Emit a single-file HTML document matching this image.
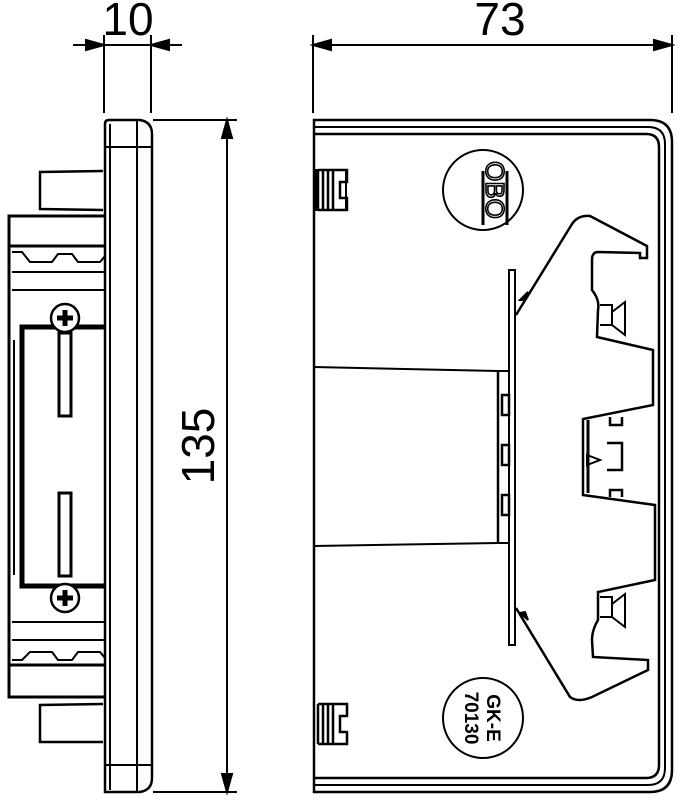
<!DOCTYPE html>
<html><head><meta charset="utf-8"><style>html,body{margin:0;padding:0;background:#fff}svg{display:block}</style></head>
<body>
<svg width="678" height="800" viewBox="0 0 678 800" xmlns="http://www.w3.org/2000/svg" fill="none" stroke="#000" stroke-width="2" font-family="Liberation Sans, sans-serif">
<!-- dim 10 -->
<line x1="104" y1="35" x2="104" y2="113"/><line x1="151" y1="35" x2="151" y2="113"/>
<line x1="73" y1="45" x2="182" y2="45"/>
<path d="M104 45 L86 40 L86 50 Z M151 45 L169 40 L169 50 Z" fill="#000"/>
<text x="128" y="35" font-size="46" text-anchor="middle" fill="#000" stroke="none">10</text>
<!-- dim 73 -->
<line x1="313" y1="35" x2="313" y2="113"/><line x1="672" y1="35" x2="672" y2="113"/>
<line x1="313" y1="45" x2="672" y2="45"/>
<path d="M313 45 L331 40 L331 50 Z M672 45 L654 40 L654 50 Z" fill="#000"/>
<text x="500" y="35" font-size="46" text-anchor="middle" fill="#000" stroke="none">73</text>
<!-- dim 135 -->
<line x1="153" y1="120" x2="237" y2="120"/><line x1="153" y1="792" x2="237" y2="792"/>
<line x1="227" y1="120" x2="227" y2="792"/>
<path d="M227 120 L222 138 L232 138 Z M227 792 L222 774 L232 774 Z" fill="#000"/>
<text transform="translate(214,446) rotate(-90)" font-size="46" text-anchor="middle" fill="#000" stroke="none">135</text>
<!-- left view plate -->
<path d="M105 792 L105 124 Q105 120 109 120 L140 120 Q152 122 152 134 L152 778 Q152 790 140 792 Z" stroke-width="2.5"/>
<line x1="110" y1="124" x2="110" y2="790"/><line x1="137" y1="120" x2="137" y2="792"/>
<line x1="105" y1="147" x2="152" y2="147"/><line x1="105" y1="765" x2="152" y2="765"/>
<!-- tabs -->
<path d="M103 171 L40 172 L40 209 L103 210" stroke-width="2.5"/>
<path d="M103 704 L40 705 L40 742 L103 742" stroke-width="2.5"/>
<!-- body -->
<path d="M105 216 L9 216 L9 697 L105 697" stroke-width="3"/>
<line x1="10" y1="246" x2="105" y2="246" stroke-width="3"/>
<line x1="12" y1="272" x2="105" y2="272"/><line x1="12" y1="290" x2="105" y2="290"/>
<path d="M12 252 L22 252 L30 262 L52 262 L58 254 L72 254 L78 262 L100 262 L105 256" />
<line x1="12" y1="622" x2="105" y2="622"/><line x1="12" y1="640" x2="105" y2="640"/>
<path d="M12 660 L22 660 L30 652 L52 652 L58 660 L72 660 L78 652 L100 652 L105 658"/>
<line x1="10" y1="665" x2="105" y2="665" stroke-width="3"/>
<path d="M105 327 L22 327 L22 586 L105 586" stroke-width="5"/>
<line x1="14" y1="340" x2="14" y2="575"/>
<rect x="59" y="333" width="12" height="83" stroke-width="3"/>
<rect x="59" y="493" width="12" height="83" stroke-width="3"/>
<circle cx="65" cy="318" r="14" fill="#fff" stroke-width="2.5"/>
<path d="M57 318 H73 M65 310 V326" stroke-width="5"/>
<circle cx="65" cy="598" r="14" fill="#fff" stroke-width="2.5"/>
<path d="M57 598 H73 M65 590 V606" stroke-width="5"/>
<!-- right view outer -->
<path d="M314 792 L314 120 L650 120 Q672 120 672 142 L672 770 Q672 792 650 792 Z" stroke-width="2.5"/>
<path d="M314 127 L648 127 Q665 127 665 144 L665 768 Q665 785 648 785 L314 785" />
<path d="M314 134 L646 134 Q659 134 659 147 L659 765 Q659 778 646 778 L314 778" stroke-width="2.5"/>
<!-- clips -->
<rect x="316" y="170" width="30" height="40" fill="#fff"/>
<path d="M318 170 V210 M323 170 V210 M328 170 V210 M333 170 V210 M318 170 H347 V182 H340 V198 H347 V210 H318" stroke-width="2.5"/>
<path d="M318 704 V744 M323 704 V744 M328 704 V744 M333 704 V744 M318 704 H347 V716 H340 V732 H347 V744 H318" stroke-width="2.5"/>
<!-- circles -->
<circle cx="483" cy="190" r="40"/>
<text transform="translate(486,190) rotate(90)" font-size="26" text-anchor="middle" fill="none" stroke="#000" stroke-width="1.6">OBO</text>
<line x1="483" y1="171" x2="483" y2="225" stroke-width="3"/><line x1="507" y1="171" x2="507" y2="225" stroke-width="3"/>
<circle cx="483" cy="718" r="40"/>
<text transform="translate(483,718) rotate(90)" font-size="19" font-weight="bold" text-anchor="middle" fill="#000" stroke="none"><tspan x="0" dy="-4">GK-E</tspan><tspan x="0" dy="22">70130</tspan></text>
<!-- mid lines -->
<line x1="314" y1="367" x2="498" y2="371"/><line x1="314" y1="546" x2="498" y2="543"/>
<rect x="509" y="270" width="6" height="375" stroke-width="2"/>
<rect x="498" y="371" width="11" height="172" stroke-width="2"/>
<path d="M498 371 V543 M502 395 h7 v20 h-7 Z M502 445 h7 v20 h-7 Z M502 495 h7 v20 h-7 Z" stroke-width="2.5"/>
<!-- bracket -->
<path d="M516 315 L572 224 Q578 215 590 216 L647 246 L647 258 L640 258 L640 253 L598 252 Q592 252 592 260 L592 290 Q600 300 598 310 L597 337 L653 350 L653 405 L583 419 L583 495 L655 505 L655 580 L598 592 L598 620 Q592 630 592 640 L593 657 L648 660 L648 670 L592 697 Q578 703 570 697 L516 608" stroke-width="2.5"/>
<path d="M520 300 L528 292 L525 300 Z M520 613 L528 620 L525 612 Z" fill="#000"/>
<!-- small details -->
<path d="M600 305 H612 V325 H600 M612 312 L625 302 V335 L612 325" stroke-width="2"/>
<path d="M600 597 H612 V617 H600 M612 604 L625 594 V627 L612 617" stroke-width="2"/>
<line x1="588" y1="420" x2="588" y2="493" stroke-width="3"/>
<path d="M587 455 L600 460 L587 465 Z"/>
<path d="M610 417 V425 H622 V417 M607 443 H622 V470 H607 M610 497 V490 H622 V497" stroke-width="2.5"/>
</svg>
</body></html>
